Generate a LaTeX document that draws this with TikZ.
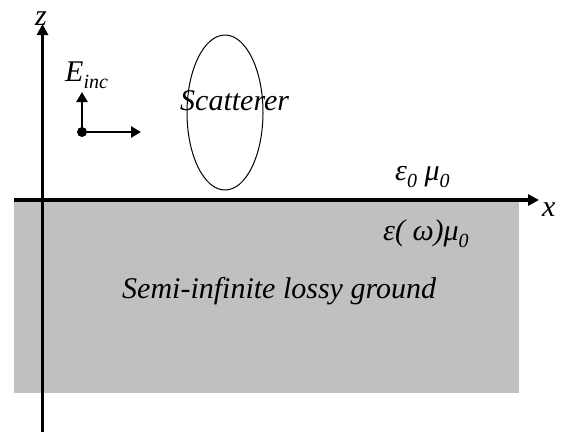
\documentclass[tikz,border=0pt]{standalone}
\usepackage{fontspec}
\setmainfont{Liberation Serif}
\usepackage{xcolor}
\definecolor{cGround}{HTML}{C0C0C0}
\definecolor{cLine}{HTML}{000000}
\usetikzlibrary{positioning,arrows.meta}
\newcommand{\lowsub}[1]{\raisebox{-0.25em}{\fontsize{20}{22}\selectfont #1}}
\tikzset{
  axis-line/.style={draw=cLine,line width=3.4pt,-{Triangle[length=11pt,width=11pt]}},
  field-arrow/.style={draw=cLine,line width=2.8pt,-{Triangle[length=10pt,width=11pt]}},
  lbl/.style={font=\fontsize{30}{32}\selectfont\itshape,inner sep=0pt,anchor=base west},
}

\begin{document}
\begin{tikzpicture}[x=1pt,y=-1pt]
  \useasboundingbox (0,0) rectangle (570,432);
  % ground half-space
  \fill[cGround] (14,200) rectangle (519,393);
  % axes
  \coordinate (xs) at (14,200);
  \coordinate (xe) at (539,200);
  \coordinate (zs) at (42.5,432);
  \coordinate (ze) at (42.5,24);
  \draw[axis-line] (xs) -- (xe);
  \draw[axis-line] (zs) -- (ze);
  \node[lbl] (xlab) at (542,216) {x};
  \node[lbl] (zlab) at (35,25) {z};
  % incident field
  \coordinate (src) at (82,132);
  \coordinate (up) at (82,92);
  \coordinate (rt) at (141,132);
  \fill (src) circle (5pt);
  \draw[field-arrow] (src) -- (up);
  \draw[field-arrow] (src) -- (rt);
  \node[lbl] (einc) at (65,81) {E\lowsub{inc}};
  % scatterer
  \draw[line width=1pt] (225,112.5) ellipse (38 and 77.5);
  \node[lbl] (scat) at (180,110) {Scatterer};
  % media
  \node[lbl] (air) at (395,180) {ε\lowsub{0} μ\lowsub{0}};
  \node[lbl] (soil) at (383,240) {ε( ω)μ\lowsub{0}};
  \node[lbl] (gnd) at (122,298) {Semi-infinite lossy ground};
\end{tikzpicture}
\end{document}
